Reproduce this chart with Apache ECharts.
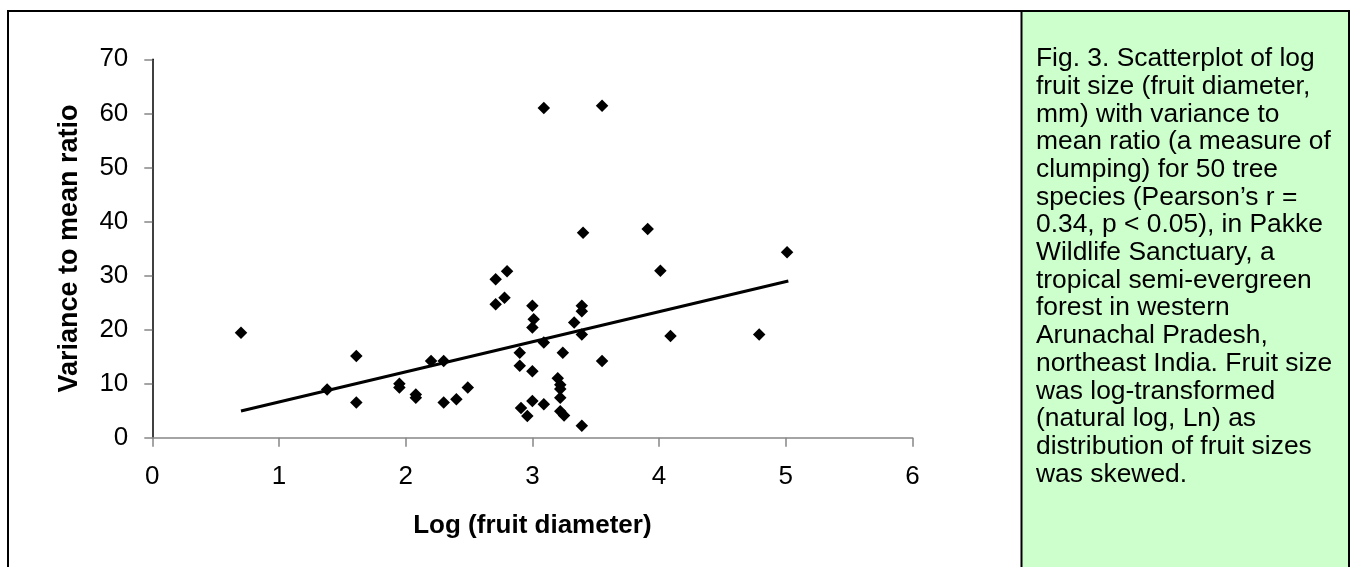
<!DOCTYPE html>
<html>
<head>
<meta charset="utf-8">
<script src="https://cdn.jsdelivr.net/npm/echarts@6/dist/echarts.min.js"></script>
<style>
html,body{margin:0;padding:0;background:#fff;}
#c{width:1351px;height:567px;}
</style>
</head>
<body>
<div id="c"></div>
<script>
// Log (fruit diameter)
const logFruitDiameter = [0.70,1.38,1.61,1.61,1.95,1.95,2.08,2.08,2.20,2.30,2.30,2.40,2.49,2.71,2.80,2.71,2.78,3.00,3.01,3.00,2.90,2.90,3.00,2.91,2.96,3.00,3.09,3.09,3.24,3.20,3.22,3.22,3.22,3.22,3.25,3.33,3.39,3.39,3.39,3.39,3.55,3.09,3.55,3.40,3.91,5.01,4.01,4.09,4.79];
// Variance to mean ratio
const varianceToMean = [19.4,8.9,15.1,6.5,10.0,9.3,8.0,7.4,14.2,14.2,6.5,7.1,9.3,29.3,30.8,24.7,25.9,24.4,21.9,20.4,15.7,13.3,12.3,5.5,4.0,6.8,17.6,6.2,15.7,11.0,9.8,9.0,7.4,4.9,4.1,21.3,24.4,23.4,19.1,2.2,14.2,61.0,61.4,37.9,38.6,34.3,30.9,18.8,19.1];
// Linear trend line end points
const trendX = [0.70, 5.02];
const trendY = [4.95, 29.0];

const captionLines = [
  "Fig. 3. Scatterplot of log",
  "fruit size (fruit diameter,",
  "mm) with variance to",
  "mean ratio (a measure of",
  "clumping) for 50 tree",
  "species (Pearson\u2019s r =",
  "0.34, p < 0.05), in Pakke",
  "Wildlife Sanctuary, a",
  "tropical semi-evergreen",
  "forest in western",
  "Arunachal Pradesh,",
  "northeast India. Fruit size",
  "was log-transformed",
  "(natural log, Ln) as",
  "distribution of fruit sizes",
  "was skewed."
];

const FONT = "'Liberation Sans', Arial, sans-serif";
const chart = echarts.init(document.getElementById('c'));
chart.setOption({
  animation: false,
  backgroundColor: '#ffffff',
  textStyle: { fontFamily: FONT },
  grid: { left: 152.3, top: 59.3, right: 438.5, bottom: 129.3, containLabel: false },
  xAxis: {
    type: 'value', min: 0, max: 6, interval: 1,
    name: 'Log (fruit diameter)', nameLocation: 'middle', nameGap: 75,
    nameTextStyle: { fontFamily: FONT, fontSize: 26, fontWeight: 'bold', color: '#000' },
    axisLine: { show: true, onZero: false, lineStyle: { color: '#868686', width: 1.5 } },
    axisTick: { show: true, inside: false, length: 9, lineStyle: { color: '#868686', width: 1.5 } },
    axisLabel: { fontFamily: FONT, fontSize: 26, color: '#000', margin: 26 },
    splitLine: { show: false }
  },
  yAxis: {
    type: 'value', min: 0, max: 70, interval: 10,
    name: 'Variance to mean ratio', nameLocation: 'middle', nameGap: 69,
    nameTextStyle: { fontFamily: FONT, fontSize: 27, fontWeight: 'bold', color: '#000' },
    axisLine: { show: true, onZero: false, lineStyle: { color: '#000', width: 1.5 } },
    axisTick: { show: true, inside: false, length: 8, lineStyle: { color: '#868686', width: 1.5 } },
    axisLabel: { fontFamily: FONT, fontSize: 26, color: '#000', margin: 24 },
    splitLine: { show: false }
  },
  series: [
    {
      type: 'scatter',
      symbol: 'diamond',
      symbolSize: 12.5,
      itemStyle: { color: '#000', opacity: 1 },
      emphasis: { disabled: true },
      data: logFruitDiameter.map((x, i) => [x, varianceToMean[i]]),
      z: 3
    },
    {
      type: 'line',
      showSymbol: false,
      symbol: 'none',
      lineStyle: { color: '#000', width: 3, opacity: 1 },
      data: trendX.map((x, i) => [x, trendY[i]]),
      z: 4
    }
  ],
  graphic: [
    {
      type: 'rect', z: -10,
      shape: { x: 8, y: 11, width: 1341, height: 580 },
      style: { fill: 'rgba(0,0,0,0)', stroke: '#000', lineWidth: 2 }
    },
    {
      type: 'rect', z: -9,
      shape: { x: 1021.5, y: 11, width: 327.5, height: 580 },
      style: { fill: '#ccffcc', stroke: '#000', lineWidth: 2 }
    },
    {
      type: 'text', z: 10,
      left: 1036, top: 45,
      style: {
        text: captionLines.join('\n'),
        fontFamily: FONT, fontSize: 26.4, lineHeight: 27.7,
        fill: '#000', textAlign: 'left', textVerticalAlign: 'top'
      }
    }
  ]
});
</script>
</body>
</html>
